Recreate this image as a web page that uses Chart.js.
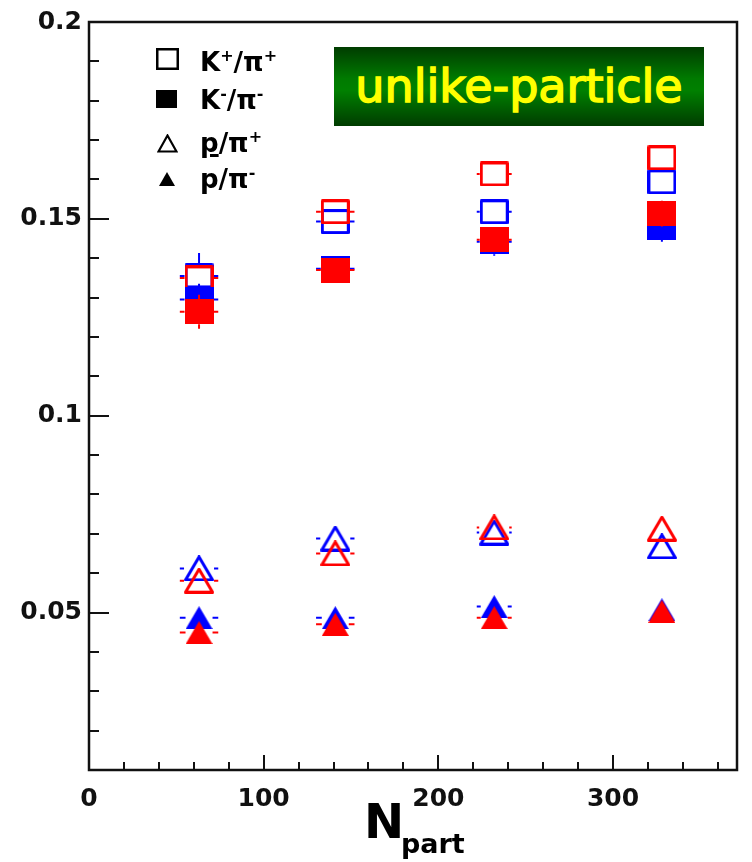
<!DOCTYPE html>
<html>
<head>
<meta charset="utf-8">
<script src="https://cdn.jsdelivr.net/npm/chart.js@4.4.0/dist/chart.umd.min.js"></script>
<style>
  body { margin: 0; background: #fff; }
  #wrap { position: relative; width: 752px; height: 862px; overflow: hidden; }
  #myChart { position: absolute; left: 0; top: 0; }
  .banner {
    position: absolute; left: 334px; top: 47px; width: 370px; height: 79px;
    background: linear-gradient(#003c00, #007a00 40%, #008000 55%, #003c00);
    color: #ffff00; font-family: "DejaVu Sans"; font-size: 46px; line-height: 79px;
    text-align: center; -webkit-text-stroke: 1.5px #ffff00; white-space: nowrap;
  }
  .leg { position: absolute; left: 200px; font-family: "DejaVu Sans"; font-weight: bold;
         font-size: 26px; line-height: 26px; color: #000; white-space: nowrap; }
  .leg sup { font-size: 16px; line-height: 0; vertical-align: 10px; }
  .leg u { text-decoration-thickness: 3px; text-underline-offset: 2px; }
  .sym { position: absolute; }
  .xt { position: absolute; font-family: "DejaVu Sans"; font-weight: bold; color: #000; white-space: nowrap; }
</style>
</head>
<body>
<div id="wrap">
  <canvas id="myChart" width="752" height="862"></canvas>

  <div class="banner">unlike-particle</div>

  <svg class="sym" style="left:156px;top:48px" width="23" height="22"><rect x="1.25" y="1.25" width="20.5" height="19.5" fill="none" stroke="#000" stroke-width="2.5"/></svg>
  <div class="leg" style="top:49px">K<sup>+</sup>/π<sup>+</sup></div>

  <svg class="sym" style="left:156px;top:90px" width="21" height="18"><rect x="0" y="0" width="21" height="18" fill="#000"/></svg>
  <div class="leg" style="top:87px">K<sup>-</sup>/π<sup>-</sup></div>

  <svg class="sym" style="left:157px;top:134px" width="21" height="19"><polygon points="10.5,1.5 19.5,17.5 1.5,17.5" fill="none" stroke="#000" stroke-width="2.2"/></svg>
  <div class="leg" style="top:130px"><u>p</u>/π<sup>+</sup></div>

  <svg class="sym" style="left:159px;top:172px" width="16" height="14"><polygon points="8,0 16,14 0,14" fill="#000"/></svg>
  <div class="leg" style="top:166px">p/π<sup>-</sup></div>

  <div class="xt" style="left:364px;top:797px;font-size:48px;line-height:48px">N</div>
  <div class="xt" style="left:401px;top:830px;font-size:27px;line-height:27px">part</div>
</div>
<script>
// N_part centrality bins
const nPart = [63, 141, 232, 328];
const nPartErr = [11, 11, 10, 6];

// K+/pi+ (open squares)
const kPlusBlue = [0.1355, 0.1493, 0.1518, 0.1594];
const kPlusBlueErr = [0.0058, 0.003, 0.003, 0.003];
const kPlusRed = [0.1350, 0.1518, 0.1614, 0.1655];
const kPlusRedErr = [0.003, 0.003, 0.003, 0.003];

// K-/pi- (filled squares)
const kMinusBlue = [0.1295, 0.1373, 0.1442, 0.1478];
const kMinusBlueErr = [0.004, 0.003, 0.0036, 0.0036];
const kMinusRed = [0.1264, 0.1370, 0.1447, 0.1513];
const kMinusRedErr = [0.0043, 0.003, 0.003, 0.0033];

// pbar/pi+ (open triangles)
const pbarBlue = [0.0612, 0.0688, 0.0703, 0.0668];
const pbarRed = [0.0581, 0.0650, 0.0716, 0.0713];

// p/pi- (filled triangles)
const pBlue = [0.0487, 0.0487, 0.0515, 0.0507];
const pRed = [0.0449, 0.0470, 0.0487, 0.0503];
const triErr = [0.002, 0.002, 0.002, 0.002];

const xTickLabels = ['0', '100', '200', '300'];
const yTickLabels = ['0.05', '0.1', '0.15', '0.2'];

const RED = '#ff0000';
const BLUE = '#0000ff';
const TICK_FONT = { family: 'DejaVu Sans', weight: 'bold', size: 25 };

function isMultiple(v, step) {
    const r = v / step;
    return Math.abs(r - Math.round(r)) < 1e-6;
}

function makeMarker(shape, filled, color, w, h, lw) {
    const c = document.createElement('canvas');
    c.width = w;
    c.height = h;
    const g = c.getContext('2d');
    g.fillStyle = color;
    g.strokeStyle = color;
    g.lineWidth = lw;
    g.lineJoin = 'round';
    const m = filled ? 0 : lw / 2;
    g.beginPath();
    if (shape === 'square') {
        g.rect(m, m, w - 2 * m, h - 2 * m);
    } else {
        g.moveTo(w / 2, m);
        g.lineTo(w - m, h - m);
        g.lineTo(m, h - m);
        g.closePath();
    }
    if (filled) g.fill(); else g.stroke();
    return c;
}

function makeDataset(label, values, errs, color, shape, filled, order) {
    const w = shape === 'square' ? 29 : (filled ? 27 : 30);
    const h = shape === 'square' ? 25 : (filled ? 23 : 26);
    return {
        label: label,
        data: nPart.map((n, i) => ({ x: n, y: values[i] })),
        yErr: errs,
        xErr: nPartErr,
        halfW: w / 2,
        halfH: h / 2,
        errColor: color,
        pointStyle: makeMarker(shape, filled, color, w, h, 3),
        pointRadius: 14,
        showLine: false,
        order: order,
    };
}

// drawn bottom to top: blue K+, red K+, blue K-, red K-, then triangles
const datasets = [
    makeDataset('K+/pi+ blue', kPlusBlue, kPlusBlueErr, BLUE, 'square', false, 8),
    makeDataset('K+/pi+ red', kPlusRed, kPlusRedErr, RED, 'square', false, 7),
    makeDataset('K-/pi- blue', kMinusBlue, kMinusBlueErr, BLUE, 'square', true, 6),
    makeDataset('K-/pi- red', kMinusRed, kMinusRedErr, RED, 'square', true, 5),
    makeDataset('pbar/pi+ blue', pbarBlue, triErr, BLUE, 'triangle', false, 4),
    makeDataset('pbar/pi+ red', pbarRed, triErr, RED, 'triangle', false, 3),
    makeDataset('p/pi- blue', pBlue, triErr, BLUE, 'triangle', true, 2),
    makeDataset('p/pi- red', pRed, triErr, RED, 'triangle', true, 1),
];

const errorBars = {
    id: 'errorBars',
    afterDatasetDraw(chart, args) {
        const ds = chart.data.datasets[args.index];
        const { ctx, scales: { x, y } } = chart;
        ctx.save();
        ctx.strokeStyle = ds.errColor;
        ctx.lineWidth = 2;
        args.meta.data.forEach((pt, i) => {
            const px = pt.x, py = pt.y;
            const yTop = y.getPixelForValue(ds.data[i].y + ds.yErr[i]);
            const yBot = y.getPixelForValue(ds.data[i].y - ds.yErr[i]);
            const xL = x.getPixelForValue(ds.data[i].x - ds.xErr[i]);
            const xR = x.getPixelForValue(ds.data[i].x + ds.xErr[i]);
            ctx.beginPath();
            if (py - yTop > ds.halfH) { ctx.moveTo(px, py - ds.halfH); ctx.lineTo(px, yTop); }
            if (yBot - py > ds.halfH) { ctx.moveTo(px, py + ds.halfH); ctx.lineTo(px, yBot); }
            if (px - xL > ds.halfW) { ctx.moveTo(px - ds.halfW, py); ctx.lineTo(xL, py); }
            if (xR - px > ds.halfW) { ctx.moveTo(px + ds.halfW, py); ctx.lineTo(xR, py); }
            ctx.stroke();
        });
        ctx.restore();
    }
};

const frameAndTicks = {
    id: 'frameAndTicks',
    afterDraw(chart) {
        const { ctx, chartArea: a, scales: { x, y } } = chart;
        ctx.save();
        ctx.strokeStyle = '#111';
        ctx.lineWidth = 2;
        ctx.beginPath();
        y.ticks.forEach((t) => {
            if (!isMultiple(t.value, 0.01)) return;
            const py = Math.round(y.getPixelForValue(t.value));
            const len = isMultiple(t.value, 0.05) ? 20 : 10;
            ctx.moveTo(a.left, py);
            ctx.lineTo(a.left + len, py);
        });
        x.ticks.forEach((t) => {
            if (!isMultiple(t.value, 20)) return;
            const px = Math.round(x.getPixelForValue(t.value));
            const len = isMultiple(t.value, 100) ? 15 : 8;
            ctx.moveTo(px, a.bottom);
            ctx.lineTo(px, a.bottom - len);
        });
        ctx.stroke();
        ctx.lineWidth = 2.5;
        ctx.strokeRect(a.left, a.top, a.right - a.left, a.bottom - a.top);
        ctx.restore();
    }
};

const ctx = document.getElementById('myChart').getContext('2d');
window.myChart = new Chart(ctx, {
    type: 'scatter',
    data: { datasets: datasets },
    options: {
        responsive: false,
        animation: false,
        devicePixelRatio: 1,
        layout: { padding: { top: 21, right: 15, left: 0, bottom: 0 } },
        plugins: {
            legend: { display: false },
            tooltip: { enabled: false },
        },
        scales: {
            x: {
                type: 'linear',
                min: 0,
                max: 371,
                grid: { display: false, drawTicks: false },
                border: { display: false },
                ticks: {
                    stepSize: 20,
                    includeBounds: false,
                    autoSkip: false,
                    maxRotation: 0,
                    padding: 14,
                    color: '#111',
                    font: TICK_FONT,
                    callback: (v) => isMultiple(v, 100) ? (xTickLabels[Math.round(v / 100)] || '') : '',
                },
                afterFit: (s) => { s.height = 92; s.paddingLeft = 0; s.paddingRight = 0; },
            },
            y: {
                type: 'linear',
                min: 0.01,
                max: 0.2,
                grid: { display: false, drawTicks: false },
                border: { display: false },
                ticks: {
                    stepSize: 0.01,
                    autoSkip: false,
                    padding: 7,
                    color: '#111',
                    font: TICK_FONT,
                    callback: (v) => isMultiple(v, 0.05) ? (yTickLabels[Math.round(v / 0.05) - 1] || '') : '',
                },
                afterFit: (s) => { s.width = 89; },
            },
        },
    },
    plugins: [errorBars, frameAndTicks],
});
</script>
</body>
</html>
